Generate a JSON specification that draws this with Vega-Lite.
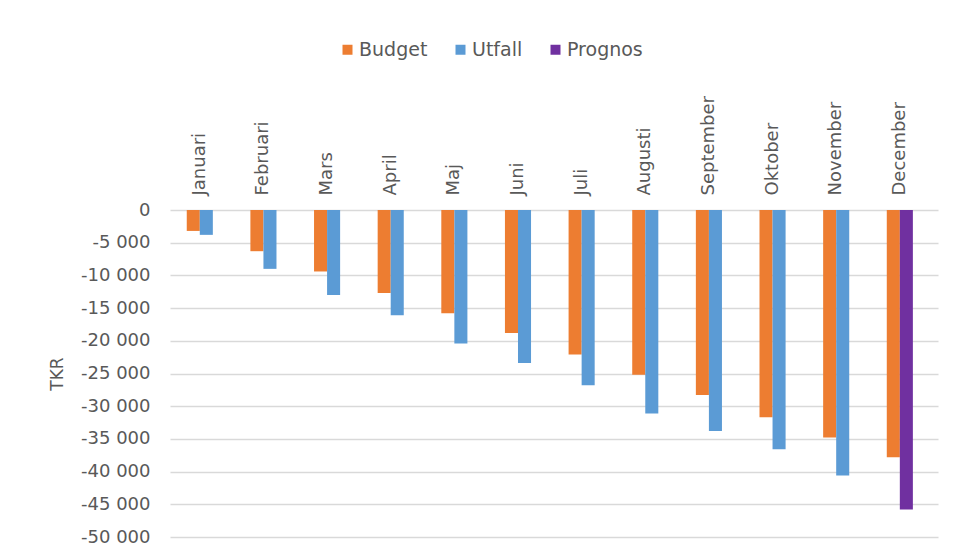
{
  "$schema": "https://vega.github.io/schema/vega-lite/v6.json",
  "width": 768,
  "height": 327,
  "autosize": "none",
  "padding": {"left": 170, "top": 210, "right": 15, "bottom": 23},
  "background": "white",
  "config": {
    "font": "DejaVu Sans",
    "view": {"stroke": null},
    "axis": {"labelFont": "DejaVu Sans", "labelColor": "#595959", "titleColor": "#595959", "titleFont": "DejaVu Sans"},
    "legend": {"labelFont": "DejaVu Sans", "labelColor": "#595959"}
  },
  "data": {
    "values": [
      {"month": "Januari", "serie": "Budget", "pos": "a", "value": -3200},
      {"month": "Januari", "serie": "Utfall", "pos": "b", "value": -3800},
      {"month": "Februari", "serie": "Budget", "pos": "a", "value": -6300},
      {"month": "Februari", "serie": "Utfall", "pos": "b", "value": -9000},
      {"month": "Mars", "serie": "Budget", "pos": "a", "value": -9400},
      {"month": "Mars", "serie": "Utfall", "pos": "b", "value": -13000},
      {"month": "April", "serie": "Budget", "pos": "a", "value": -12700},
      {"month": "April", "serie": "Utfall", "pos": "b", "value": -16100},
      {"month": "Maj", "serie": "Budget", "pos": "a", "value": -15800},
      {"month": "Maj", "serie": "Utfall", "pos": "b", "value": -20400},
      {"month": "Juni", "serie": "Budget", "pos": "a", "value": -18800},
      {"month": "Juni", "serie": "Utfall", "pos": "b", "value": -23400},
      {"month": "Juli", "serie": "Budget", "pos": "a", "value": -22100},
      {"month": "Juli", "serie": "Utfall", "pos": "b", "value": -26800},
      {"month": "Augusti", "serie": "Budget", "pos": "a", "value": -25200},
      {"month": "Augusti", "serie": "Utfall", "pos": "b", "value": -31100},
      {"month": "September", "serie": "Budget", "pos": "a", "value": -28300},
      {"month": "September", "serie": "Utfall", "pos": "b", "value": -33800},
      {"month": "Oktober", "serie": "Budget", "pos": "a", "value": -31700},
      {"month": "Oktober", "serie": "Utfall", "pos": "b", "value": -36600},
      {"month": "November", "serie": "Budget", "pos": "a", "value": -34800},
      {"month": "November", "serie": "Utfall", "pos": "b", "value": -40600},
      {"month": "December", "serie": "Budget", "pos": "a", "value": -37800},
      {"month": "December", "serie": "Prognos", "pos": "b", "value": -45800}
    ]
  },
  "mark": {"type": "bar"},
  "encoding": {
    "x": {
      "field": "month",
      "type": "nominal",
      "sort": null,
      "scale": {"paddingInner": 0.59, "paddingOuter": 0.329, "align": 0.4},
      "axis": {
        "orient": "top",
        "title": null,
        "labelAngle": -90,
        "labelFontSize": 18,
        "labelPadding": 15,
        "ticks": false,
        "domain": false
      }
    },
    "xOffset": {"field": "pos", "type": "nominal", "scale": {"paddingInner": 0, "paddingOuter": 0}},
    "y": {
      "field": "value",
      "type": "quantitative",
      "scale": {"domain": [-50000, 0], "nice": false},
      "axis": {
        "title": "TKR",
        "titleFontSize": 17,
        "titleFontWeight": "normal",
        "titlePadding": 14,
        "values": [0, -5000, -10000, -15000, -20000, -25000, -30000, -35000, -40000, -45000, -50000],
        "labelExpr": "replace(replace(format(datum.value, ','), ',', ' '), '\u2212', '-')",
        "labelFontSize": 18,
        "labelPadding": 20,
        "ticks": false,
        "domain": false,
        "gridColor": "#d9d9d9",
        "gridWidth": 1.5
      }
    },
    "color": {
      "field": "serie",
      "type": "nominal",
      "scale": {"domain": ["Budget", "Utfall", "Prognos"], "range": ["#ED7D31", "#5B9BD5", "#7030A0"]},
      "legend": {
        "title": null,
        "orient": "none",
        "direction": "horizontal",
        "legendX": 168,
        "legendY": -170,
        "symbolType": "square",
        "symbolSize": 100,
        "symbolStrokeWidth": 0,
        "labelFontSize": 19,
        "labelOffset": 2,
        "columnPadding": 23
      }
    }
  }
}
